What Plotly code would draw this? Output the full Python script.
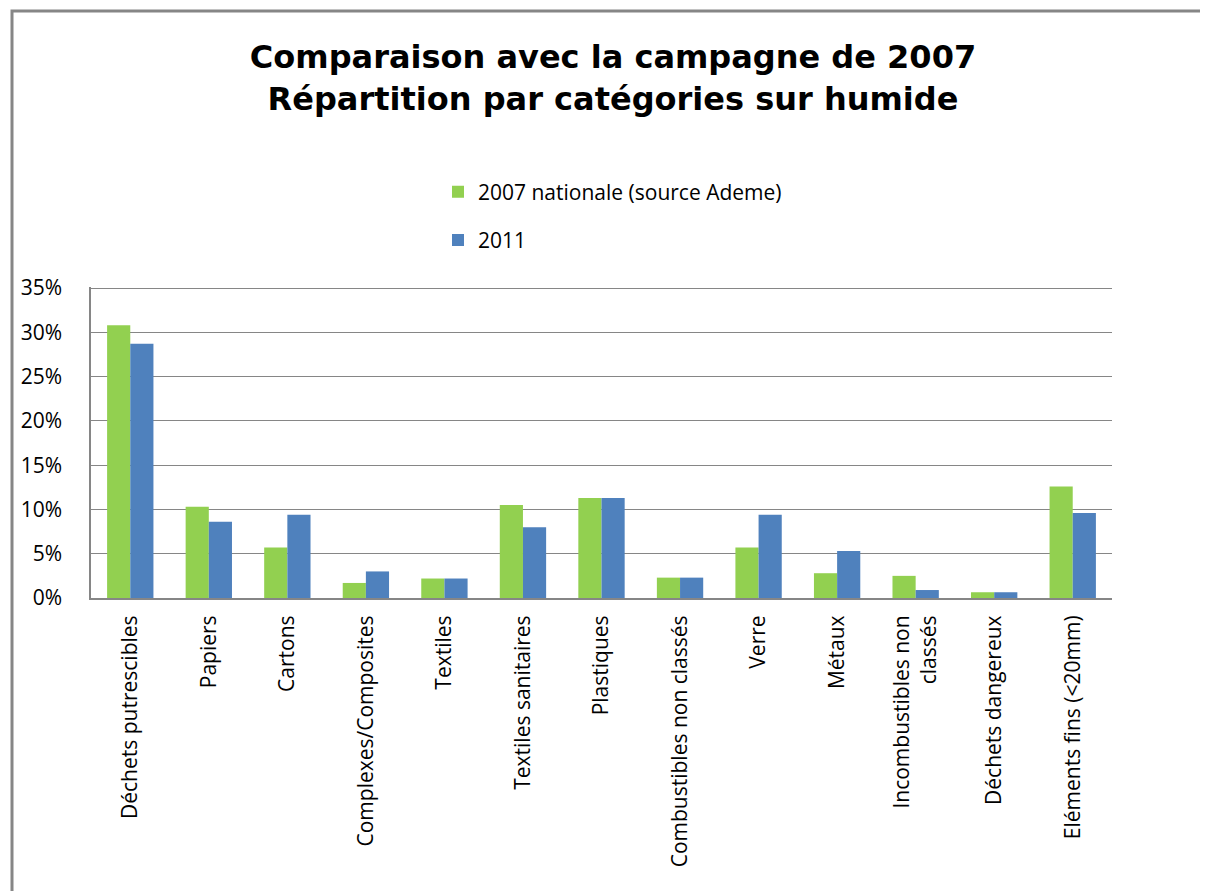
import plotly.graph_objects as go

categories = [
    "Déchets putrescibles", "Papiers", "Cartons", "Complexes/Composites",
    "Textiles", "Textiles sanitaires", "Plastiques", "Combustibles non classés",
    "Verre", "Métaux", "Incombustibles non<br>classés", "Déchets dangereux",
    "Eléments fins (<20mm)",
]
values_2007 = [30.8, 10.3, 5.7, 1.7, 2.2, 10.5, 11.3, 2.3, 5.7, 2.8, 2.5, 0.65, 12.6]
values_2011 = [28.7, 8.6, 9.4, 3.0, 2.2, 8.0, 11.3, 2.3, 9.4, 5.3, 0.9, 0.65, 9.6]
series_names = ["2007 nationale (source Ademe)", "2011"]
y_ticks = [0, 5, 10, 15, 20, 25, 30, 35]
y_ticktext = [f"{v}%" for v in y_ticks]

GREEN = "#92D050"
BLUE = "#4F81BD"
GRID = "#868686"
FONT = "Open Sans"

fig = go.Figure()
fig.add_trace(go.Bar(x=categories, y=values_2007, name=series_names[0],
                     marker=dict(color=GREEN, line=dict(width=0)), legendgroup="a"))
fig.add_trace(go.Bar(x=categories, y=values_2011, name=series_names[1],
                     marker=dict(color=BLUE, line=dict(width=0)), legendgroup="b"))

fig.update_layout(
    width=1208, height=891,
    margin=dict(l=83, r=104, t=279, b=301),
    paper_bgcolor="white", plot_bgcolor="white",
    barmode="group", bargap=0.41, bargroupgap=0,
    font=dict(family=FONT, color="black"),
    title=dict(
        text="Comparaison avec la campagne de 2007<br>Répartition par catégories sur humide",
        font=dict(family="DejaVu Sans", size=32, color="black", weight="bold"),
        x=605 / 1208, xanchor="center", xref="container",
        y=1 - 60 / 891, yanchor="top", yref="container",
    ),
    legend=dict(
        x=(438 - 91) / 1021, xanchor="left", xref="paper",
        y=(598 - 173) / 310, yanchor="top", yref="paper",
        font=dict(family=FONT, size=21, color="black"),
        traceorder="grouped", tracegroupgap=18,
        bgcolor="rgba(0,0,0,0)",
    ),
    showlegend=True,
)

fig.update_xaxes(
    type="category",
    tickangle=-90,
    tickfont=dict(family=FONT, size=21, color="black"),
    showline=True, linecolor=GRID, linewidth=2,
    ticks="outside", ticklen=7, tickcolor="rgba(0,0,0,0)",
    showgrid=False,
)
fig.update_yaxes(
    range=[0, 35.12], tickvals=y_ticks, ticktext=y_ticktext,
    tickfont=dict(family=FONT, size=21, color="black"),
    showline=True, linecolor=GRID, linewidth=1.5,
    showgrid=True, gridcolor=GRID, gridwidth=1,
    zeroline=False,
    ticks="outside", ticklen=23, tickcolor="rgba(0,0,0,0)",
)

# outer chart frame
fig.add_shape(type="rect", xref="paper", yref="paper",
              x0=(12 - 91) / 1021, x1=(1215 - 91) / 1021,
              y0=(598 - 900) / 310, y1=(598 - 13) / 310,
              line=dict(color=GRID, width=3), fillcolor="rgba(0,0,0,0)", layer="below")

fig.write_html("out.html")
